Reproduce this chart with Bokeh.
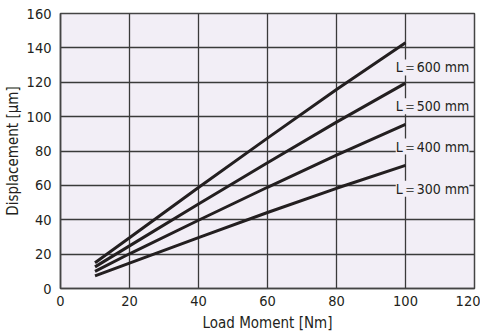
from bokeh.plotting import figure
from bokeh.models import ColumnDataSource, LabelSet, FixedTicker, Range1d
from bokeh.core.properties import value
from bokeh.embed import file_html
from bokeh.resources import INLINE

# Data
moment = [10, 20, 40, 60, 80, 100]
disp_600 = [15.0, 29.5, 58.8, 87.5, 115.8, 143.0]
disp_500 = [12.6, 24.8, 49.2, 73.2, 96.8, 119.5]
disp_400 = [10.0, 20.2, 39.7, 58.9, 77.6, 95.5]
disp_300 = [7.3, 14.8, 29.6, 44.2, 58.3, 71.6]

labels = ["L\uff1d600 mm", "L\uff1d500 mm", "L\uff1d400 mm", "L\uff1d300 mm"]
label_x = [118.5, 118.5, 118.5, 118.5]
label_y = [128.6, 106.0, 82.6, 58.0]

x_ticks = [0, 20, 40, 60, 80, 100, 120]
y_ticks = [0, 20, 40, 60, 80, 100, 120, 140, 160]

FONT = "'DejaVu Sans Condensed', 'Roboto', sans-serif"
BG = "#f2eef6"
INK = "#231f20"

p = figure(frame_width=414, frame_height=275, output_backend="svg", toolbar_location=None,
           x_range=Range1d(0, 120), y_range=Range1d(0, 160),
           min_border_left=52, min_border_right=6, min_border_top=13, min_border_bottom=30)

p.background_fill_color = BG
p.border_fill_color = "white"
p.outline_line_color = "#444444"
p.outline_line_width = 1.5

for ax in (p.xaxis, p.yaxis):
    ax.major_tick_line_color = None
    ax.minor_tick_line_color = None
    ax.axis_line_color = "#444444"
    ax.axis_line_width = 1.5
    ax.major_label_text_font = FONT
    ax.major_label_text_font_size = "14.5px"
    ax.major_label_text_color = INK
    ax.axis_label_text_font = FONT
    ax.axis_label_text_font_style = "normal"
    ax.axis_label_text_color = INK

p.xaxis.axis_label_text_font_size = "15px"
p.yaxis.axis_label_text_font_size = "15px"
p.xaxis.ticker = FixedTicker(ticks=x_ticks)
p.yaxis.ticker = FixedTicker(ticks=y_ticks)
p.xaxis.axis_label = "Load Moment [Nm]"
p.yaxis.axis_label = "Displacement [\u03bcm]"
p.xaxis.major_label_standoff = 1
p.yaxis.major_label_standoff = 3
p.xaxis.axis_label_standoff = 5
p.yaxis.axis_label_standoff = 2

p.xgrid.ticker = FixedTicker(ticks=x_ticks)
p.ygrid.ticker = FixedTicker(ticks=y_ticks)
for g in (p.xgrid, p.ygrid):
    g.grid_line_color = "#3a3a3a"
    g.grid_line_width = 1.3

for ys in (disp_600, disp_500, disp_400, disp_300):
    p.line(moment, ys, line_color=INK, line_width=3)

src = ColumnDataSource(dict(x=label_x, y=label_y, text=labels))
ls = LabelSet(x="x", y="y", text="text", source=src,
              text_align="right", text_baseline="middle",
              text_font=value(FONT), text_font_size="14px", text_color=INK,
              background_fill_color=BG, background_fill_alpha=1.0)
p.add_layout(ls)

open("out.html", "w").write(file_html(p, INLINE))
